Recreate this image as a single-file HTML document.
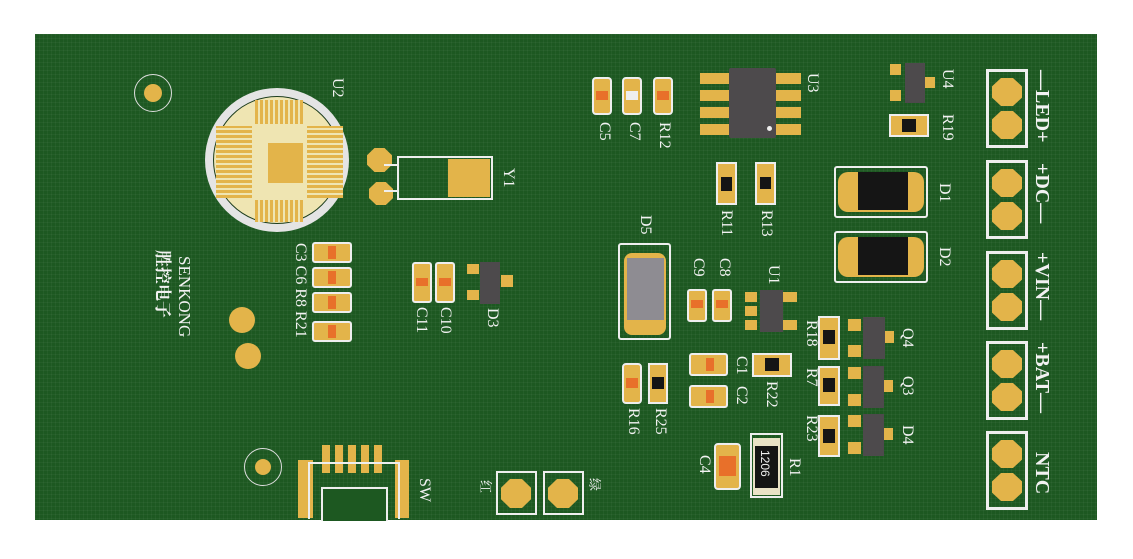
<!DOCTYPE html><html><head><meta charset="utf-8"><style>
body{margin:0;width:1133px;height:559px;background:#fff;position:relative;overflow:hidden;font-family:"Liberation Serif","Noto Serif CJK SC",serif}
div,span{position:absolute;box-sizing:border-box}
#b{left:35px;top:34px;width:1062px;height:486px;background:#1d5821;background-image:linear-gradient(rgba(255,255,255,.035) 1px,transparent 1px),linear-gradient(90deg,rgba(255,255,255,.035) 1px,transparent 1px);background-size:4px 4px}
.g{background:#e3b44a}
.w{border:2px solid #eee}
.t{color:#f2f2f2;font-size:16px;writing-mode:vertical-rl;text-orientation:sideways;line-height:1;white-space:nowrap}
.blk{background:#151515}
.gr{background:#4d4a4c}
.or{background:#e8702a}
.oct{background:#e3b44a;clip-path:polygon(30% 0,70% 0,100% 30%,100% 70%,70% 100%,30% 100%,0 70%,0 30%)}
.c{border-radius:50%}
</style></head><body>
<div id="b"></div>
<div class="c" style="left:134px;top:74px;width:38px;height:38px;border:1.5px solid #ddd"></div>
<div class="c g" style="left:144px;top:84px;width:18px;height:18px"></div>
<div class="c" style="left:205px;top:88px;width:144px;height:144px;background:#e4e4e4"></div>
<div class="c" style="left:213px;top:96px;width:128px;height:128px;background:#efe5b2;border:1.5px solid #1d3d1d"></div>
<div style="left:255px;top:100px;width:48px;height:24px;background:repeating-linear-gradient(90deg,#e3b44a 0 3px,#efe5b2 3px 5px)"></div>
<div style="left:255px;top:200px;width:48px;height:22px;background:repeating-linear-gradient(90deg,#e3b44a 0 3px,#efe5b2 3px 5px)"></div>
<div style="left:216px;top:126px;width:36px;height:72px;background:repeating-linear-gradient(0deg,#e3b44a 0 3px,#efe5b2 3px 5px)"></div>
<div style="left:307px;top:126px;width:36px;height:72px;background:repeating-linear-gradient(0deg,#e3b44a 0 3px,#efe5b2 3px 5px)"></div>
<div class="g" style="left:268px;top:143px;width:35px;height:40px"></div>
<span class="t" style="left:329px;top:78px">U2</span>
<div class="oct" style="left:367px;top:148px;width:25px;height:24px"></div>
<div class="oct" style="left:369px;top:182px;width:24px;height:23px"></div>
<div style="left:384px;top:164px;width:14px;height:2px;background:#eee"></div>
<div style="left:384px;top:190px;width:14px;height:2px;background:#eee"></div>
<div class="w" style="left:397px;top:156px;width:96px;height:44px"></div>
<div class="g" style="left:448px;top:159px;width:42px;height:38px"></div>
<span class="t" style="left:500px;top:168px">Y1</span>
<span class="t" style="left:176px;top:256px;font-size:17px">SENKONG</span>
<span class="t" style="left:154px;top:250px;font-size:17px;font-weight:bold">胜控电子</span>
<div style="left:312px;top:242px;width:40px;height:100px">
<div class="w" style="left:0;top:0;width:40px;height:21px;border-radius:3px;background:#e3b44a"></div>
<div class="w" style="left:0;top:25px;width:40px;height:21px;border-radius:3px;background:#e3b44a"></div>
<div class="w" style="left:0;top:50px;width:40px;height:21px;border-radius:3px;background:#e3b44a"></div>
<div class="w" style="left:0;top:79px;width:40px;height:21px;border-radius:3px;background:#e3b44a"></div>
<div class="or" style="left:16px;top:4px;width:8px;height:13px"></div><div class="or" style="left:16px;top:29px;width:8px;height:13px"></div><div class="or" style="left:16px;top:54px;width:8px;height:13px"></div><div class="or" style="left:16px;top:83px;width:8px;height:13px"></div>
</div>
<span class="t" style="left:292px;top:243px;font-size:16px">C3 C6 R8 R21</span>
<div class="c g" style="left:229px;top:307px;width:26px;height:26px"></div>
<div class="c g" style="left:235px;top:343px;width:26px;height:26px"></div>
<div class="w g" style="left:412px;top:262px;width:20px;height:41px;border-radius:3px"></div>
<div class="w g" style="left:435px;top:262px;width:20px;height:41px;border-radius:3px"></div>
<div class="or" style="left:416px;top:278px;width:12px;height:8px"></div><div class="or" style="left:439px;top:278px;width:12px;height:8px"></div>
<span class="t" style="left:413px;top:307px">C11</span><span class="t" style="left:437px;top:307px">C10</span>
<div class="g" style="left:467px;top:264px;width:12px;height:10px"></div><div class="g" style="left:467px;top:290px;width:12px;height:10px"></div><div class="g" style="left:501px;top:275px;width:12px;height:12px"></div>
<div class="gr" style="left:480px;top:262px;width:20px;height:42px"></div>
<span class="t" style="left:484px;top:308px">D3</span>
<div class="c" style="left:244px;top:448px;width:38px;height:38px;border:1.5px solid #ddd"></div>
<div class="c g" style="left:255px;top:459px;width:16px;height:16px"></div>
<div class="g" style="left:298px;top:460px;width:15px;height:58px"></div>
<div class="g" style="left:395px;top:460px;width:14px;height:58px"></div>
<div style="left:322px;top:445px;width:63px;height:28px;background:repeating-linear-gradient(90deg,#e3b44a 0 8px,transparent 8px 13px)"></div>
<div class="w" style="left:308px;top:462px;width:92px;height:57px;border-bottom:none"></div>
<div class="w" style="left:321px;top:487px;width:67px;height:34px;border-bottom:none;background:#1d5821"></div>
<span class="t" style="left:416px;top:478px">SW</span>
<span class="t" style="left:479px;top:480px;font-size:13px">红</span>
<div class="w" style="left:496px;top:471px;width:41px;height:44px"></div><div class="oct" style="left:501px;top:479px;width:30px;height:29px"></div>
<div class="w" style="left:543px;top:471px;width:41px;height:44px"></div><div class="oct" style="left:548px;top:479px;width:30px;height:29px"></div>
<span class="t" style="left:588px;top:478px;font-size:13px">绿</span>
<div class="w g" style="left:592px;top:77px;width:20px;height:38px;border-radius:4px"></div>
<div class="w g" style="left:622px;top:77px;width:20px;height:38px;border-radius:4px"></div>
<div class="w g" style="left:653px;top:77px;width:20px;height:38px;border-radius:4px"></div>
<div class="or" style="left:596px;top:91px;width:12px;height:9px"></div><div style="left:626px;top:91px;width:12px;height:9px;background:#eee"></div><div class="or" style="left:657px;top:91px;width:12px;height:9px"></div>
<span class="t" style="left:596px;top:122px">C5</span><span class="t" style="left:626px;top:122px">C7</span><span class="t" style="left:656px;top:122px">R12</span>
<div class="g" style="left:700px;top:73px;width:30px;height:11px"></div><div class="g" style="left:700px;top:90px;width:30px;height:11px"></div><div class="g" style="left:700px;top:107px;width:30px;height:11px"></div><div class="g" style="left:700px;top:124px;width:30px;height:11px"></div>
<div class="g" style="left:775px;top:73px;width:26px;height:11px"></div><div class="g" style="left:775px;top:90px;width:26px;height:11px"></div><div class="g" style="left:775px;top:107px;width:26px;height:11px"></div><div class="g" style="left:775px;top:124px;width:26px;height:11px"></div>
<div class="gr" style="left:729px;top:68px;width:47px;height:70px;border-radius:2px"></div>
<div class="c" style="left:767px;top:126px;width:5px;height:5px;background:#eee"></div>
<span class="t" style="left:804px;top:73px">U3</span>
<div class="g" style="left:890px;top:64px;width:11px;height:11px"></div><div class="g" style="left:890px;top:90px;width:11px;height:11px"></div><div class="g" style="left:925px;top:77px;width:10px;height:11px"></div>
<div class="gr" style="left:905px;top:63px;width:20px;height:40px"></div>
<span class="t" style="left:939px;top:69px">U4</span>
<div class="w g" style="left:889px;top:114px;width:40px;height:23px"></div><div class="blk" style="left:902px;top:119px;width:14px;height:13px"></div>
<span class="t" style="left:939px;top:114px">R19</span>
<div class="w g" style="left:716px;top:162px;width:21px;height:43px"></div><div class="blk" style="left:721px;top:177px;width:11px;height:14px"></div>
<div class="w g" style="left:755px;top:162px;width:21px;height:43px"></div><div class="blk" style="left:760px;top:177px;width:11px;height:12px"></div>
<span class="t" style="left:718px;top:210px">R11</span><span class="t" style="left:758px;top:210px">R13</span>
<div class="w" style="left:834px;top:166px;width:94px;height:52px;border-radius:3px"></div>
<div class="g" style="left:838px;top:172px;width:86px;height:40px;border-radius:10px"></div>
<div class="blk" style="left:858px;top:172px;width:50px;height:38px"></div>
<span class="t" style="left:936px;top:183px">D1</span>
<div class="w" style="left:834px;top:231px;width:94px;height:52px;border-radius:3px"></div>
<div class="g" style="left:838px;top:237px;width:86px;height:40px;border-radius:10px"></div>
<div class="blk" style="left:858px;top:237px;width:50px;height:38px"></div>
<span class="t" style="left:936px;top:247px">D2</span>
<div class="w" style="left:986px;top:69px;width:42px;height:79px;border-width:3px"></div><div class="oct" style="left:992px;top:78px;width:30px;height:28px"></div><div class="oct" style="left:992px;top:111px;width:30px;height:28px"></div>
<div class="w" style="left:986px;top:160px;width:42px;height:79px;border-width:3px"></div><div class="oct" style="left:992px;top:169px;width:30px;height:28px"></div><div class="oct" style="left:992px;top:202px;width:30px;height:28px"></div>
<div class="w" style="left:986px;top:251px;width:42px;height:79px;border-width:3px"></div><div class="oct" style="left:992px;top:260px;width:30px;height:28px"></div><div class="oct" style="left:992px;top:293px;width:30px;height:28px"></div>
<div class="w" style="left:986px;top:341px;width:42px;height:79px;border-width:3px"></div><div class="oct" style="left:992px;top:350px;width:30px;height:28px"></div><div class="oct" style="left:992px;top:383px;width:30px;height:28px"></div>
<div class="w" style="left:986px;top:431px;width:42px;height:79px;border-width:3px"></div><div class="oct" style="left:992px;top:440px;width:30px;height:28px"></div><div class="oct" style="left:992px;top:473px;width:30px;height:28px"></div>
<span class="t" style="left:1032px;top:70px;font-size:20px;font-weight:bold">—LED+</span>
<span class="t" style="left:1032px;top:163px;font-size:20px;font-weight:bold">+DC—</span>
<span class="t" style="left:1032px;top:252px;font-size:20px;font-weight:bold">+VIN—</span>
<span class="t" style="left:1032px;top:342px;font-size:20px;font-weight:bold">+BAT—</span>
<span class="t" style="left:1032px;top:452px;font-size:20px;font-weight:bold">NTC</span>
<div class="w" style="left:618px;top:243px;width:53px;height:97px;border-radius:3px"></div>
<div class="g" style="left:624px;top:253px;width:42px;height:82px;border-radius:8px"></div>
<div style="left:627px;top:258px;width:37px;height:62px;background:#8e8c92"></div>
<span class="t" style="left:637px;top:215px">D5</span>
<div class="w g" style="left:687px;top:289px;width:20px;height:33px;border-radius:3px"></div><div class="or" style="left:691px;top:300px;width:12px;height:8px"></div>
<div class="w g" style="left:712px;top:289px;width:20px;height:33px;border-radius:3px"></div><div class="or" style="left:716px;top:300px;width:12px;height:8px"></div>
<span class="t" style="left:690px;top:258px">C9</span><span class="t" style="left:716px;top:258px">C8</span>
<div class="g" style="left:745px;top:292px;width:12px;height:10px"></div><div class="g" style="left:745px;top:306px;width:12px;height:10px"></div><div class="g" style="left:745px;top:320px;width:12px;height:10px"></div>
<div class="g" style="left:783px;top:292px;width:14px;height:10px"></div><div class="g" style="left:783px;top:320px;width:14px;height:10px"></div>
<div class="gr" style="left:760px;top:290px;width:23px;height:42px"></div>
<span class="t" style="left:765px;top:265px">U1</span>
<div class="w g" style="left:622px;top:363px;width:20px;height:41px;border-radius:4px"></div><div class="or" style="left:626px;top:378px;width:12px;height:10px"></div>
<div class="w g" style="left:648px;top:363px;width:20px;height:41px"></div><div class="blk" style="left:652px;top:377px;width:12px;height:12px"></div>
<span class="t" style="left:625px;top:408px">R16</span><span class="t" style="left:652px;top:408px">R25</span>
<div class="w g" style="left:689px;top:353px;width:39px;height:23px;border-radius:3px"></div><div class="or" style="left:706px;top:358px;width:8px;height:13px"></div>
<div class="w g" style="left:689px;top:385px;width:39px;height:23px;border-radius:3px"></div><div class="or" style="left:706px;top:390px;width:8px;height:13px"></div>
<span class="t" style="left:733px;top:356px">C1</span><span class="t" style="left:733px;top:386px">C2</span>
<div class="w g" style="left:752px;top:353px;width:40px;height:24px"></div><div class="blk" style="left:765px;top:358px;width:14px;height:13px"></div>
<span class="t" style="left:763px;top:381px">R22</span>
<span class="t" style="left:803px;top:320px">R18</span><span class="t" style="left:803px;top:368px">R7</span><span class="t" style="left:803px;top:415px">R23</span>
<div class="w g" style="left:818px;top:316px;width:22px;height:44px"></div><div class="blk" style="left:823px;top:330px;width:12px;height:14px"></div>
<div class="w g" style="left:818px;top:366px;width:22px;height:40px"></div><div class="blk" style="left:823px;top:378px;width:12px;height:14px"></div>
<div class="w g" style="left:818px;top:415px;width:22px;height:42px"></div><div class="blk" style="left:823px;top:429px;width:12px;height:14px"></div>
<div class="g" style="left:848px;top:319px;width:13px;height:12px"></div><div class="g" style="left:848px;top:345px;width:13px;height:12px"></div><div class="g" style="left:885px;top:331px;width:9px;height:12px"></div>
<div class="gr" style="left:863px;top:317px;width:22px;height:42px"></div>
<div class="g" style="left:848px;top:367px;width:13px;height:12px"></div><div class="g" style="left:848px;top:394px;width:13px;height:12px"></div><div class="g" style="left:884px;top:380px;width:9px;height:12px"></div>
<div class="gr" style="left:863px;top:366px;width:21px;height:42px"></div>
<div class="g" style="left:848px;top:415px;width:13px;height:12px"></div><div class="g" style="left:848px;top:442px;width:13px;height:12px"></div><div class="g" style="left:884px;top:428px;width:9px;height:12px"></div>
<div class="gr" style="left:863px;top:414px;width:21px;height:42px"></div>
<span class="t" style="left:899px;top:328px">Q4</span><span class="t" style="left:899px;top:376px">Q3</span><span class="t" style="left:899px;top:425px">D4</span>
<div class="w g" style="left:714px;top:443px;width:27px;height:47px;border-radius:4px"></div><div class="or" style="left:719px;top:456px;width:17px;height:20px"></div>
<span class="t" style="left:696px;top:455px">C4</span>
<div class="w" style="left:750px;top:433px;width:33px;height:65px"></div>
<div style="left:753px;top:438px;width:27px;height:57px;background:#e9e2c6"></div>
<div class="blk" style="left:755px;top:446px;width:23px;height:42px"></div>
<span class="t" style="left:759px;top:450px;font-family:'Liberation Sans',sans-serif;font-size:12px">1206</span>
<span class="t" style="left:786px;top:458px">R1</span>
</body></html>
